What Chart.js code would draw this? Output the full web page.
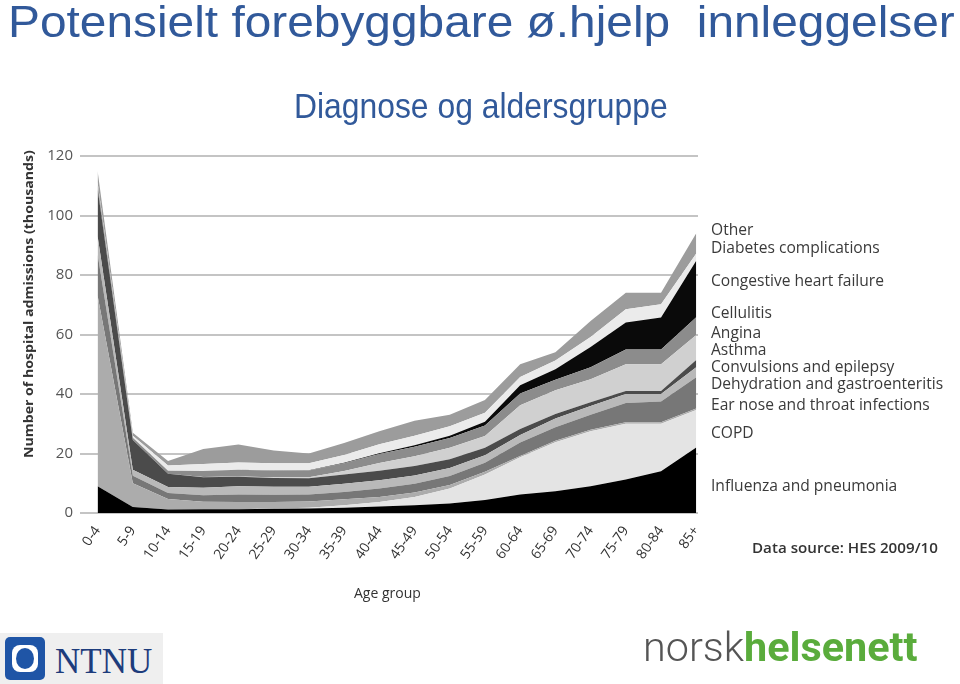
<!DOCTYPE html>
<html><head><meta charset="utf-8">
<script src="https://cdn.jsdelivr.net/npm/chart.js"></script>
<style>
html,body{margin:0;padding:0;background:#fff;}
#wrap{position:relative;width:960px;height:684px;overflow:hidden;background:#fff;}
canvas{position:absolute;left:0;top:0;}
.t{position:absolute;white-space:pre;line-height:1;}
.blue{color:#31599a;font-family:"Liberation Sans",Arial,sans-serif;transform-origin:0 0;}
.lg{position:absolute;left:711px;font-family:"Open Sans",sans-serif;font-size:15.6px;color:#3a3a3a;white-space:pre;line-height:1;transform:translateY(-50%);}
</style></head><body>
<div id="wrap">
<canvas id="c" width="960" height="684"></canvas>
<div id="title" class="t blue" style="left:8px;top:0px;font-size:44px;">Potensielt forebyggbare ø.hjelp  innleggelser</div>
<div id="sub" class="t blue" style="left:294px;top:88px;font-size:35px;">Diagnose og aldersgruppe</div>
<div id="ytitle" class="t" style="left:0;top:0;font-family:'Open Sans',sans-serif;font-weight:700;font-size:13px;color:#333;transform-origin:0 0;">Number of hospital admissions (thousands)</div>
<div class="t" style="left:354px;top:586px;font-family:'Open Sans',sans-serif;font-size:14px;color:#333;">Age group</div>
<div id="src" class="t" style="left:752px;top:540px;font-family:'Open Sans',sans-serif;font-weight:600;font-size:15px;color:#333;transform-origin:0 0;">Data source: HES 2009/10</div>
<div id="legend"></div>
<div style="position:absolute;left:0;top:633px;width:163px;height:51px;background:#efefef;"></div>
<div style="position:absolute;left:5px;top:637px;width:40px;height:43px;background:#1f55a6;border-radius:5px;"></div>
<div style="position:absolute;left:12px;top:645px;width:26px;height:27px;background:#fff;border-radius:8px;"></div>
<div style="position:absolute;left:16px;top:648px;width:18px;height:21px;background:#1f55a6;border-radius:50%;"></div>
<div class="t" style="left:55px;top:644px;font-family:'Liberation Serif',serif;font-size:35px;color:#1d3c7c;">NTNU</div>
<div id="nhn" class="t" style="left:643px;top:628px;font-family:Roboto,'Liberation Sans',sans-serif;font-size:40px;transform-origin:0 0;"><span style="font-weight:300;color:#555;">norsk</span><span style="font-weight:700;color:#5aac3c;">helsenett</span></div>
</div>
<script>
const ages = ['0-4','5-9','10-14','15-19','20-24','25-29','30-34','35-39','40-44','45-49','50-54','55-59','60-64','65-69','70-74','75-79','80-84','85+'];
const influenza   = [9, 2, 1.2, 1.3, 1.3, 1.4, 1.5, 1.8, 2.2, 2.6, 3.2, 4.4, 6.2, 7.3, 9, 11.3, 14, 22];
const copd        = [0, 0, 0, 0, 0, 0.1, 0.3, 0.8, 1.5, 2.8, 5, 8.5, 12.5, 16.5, 18.5, 18.7, 16, 12.6];
const ent         = [64, 8, 3.5, 2.5, 2.4, 2.2, 2.1, 2, 1.7, 1.5, 1.2, 1, 0.5, 0.5, 0.5, 0.5, 0.5, 0.5];
const dehydration = [14, 2.5, 2, 2.2, 2.5, 2.4, 2.3, 2.5, 2.8, 2.9, 3, 3, 4.5, 4.5, 5, 6.5, 7, 10.5];
const convulsions = [6, 2, 2, 2.5, 2.8, 2.7, 2.6, 2.7, 2.8, 2.8, 2.7, 2.5, 2.5, 3, 3, 3, 2.5, 3.4];
const asthma      = [16, 10, 4.5, 3.5, 3.2, 3, 2.9, 3.1, 3.2, 3.2, 3, 2.5, 2, 1.5, 1.2, 1, 1, 2.4];
const angina      = [0, 0, 0, 0.1, 0.1, 0.2, 0.3, 1.2, 2.6, 3.3, 3.8, 4, 8, 8, 7.8, 9, 9, 8.4];
const cellulitis  = [1.5, 0.8, 1, 2, 2.2, 2.2, 2.3, 2.6, 3, 3.2, 3.3, 3.5, 4, 3.5, 4, 5, 5, 6];
const chf         = [0, 0, 0, 0, 0, 0.1, 0.1, 0.2, 0.3, 0.5, 0.8, 1.3, 2.7, 3.5, 6.8, 9, 10.7, 19];
const diabetes    = [0.5, 0.7, 1.8, 2.4, 2.5, 2.4, 2.3, 2.6, 3, 3.2, 3.2, 3, 2.8, 3, 3.4, 4.5, 4.5, 2.4];
const other       = [4, 1, 1.5, 5, 6, 4.3, 3.3, 4, 4.4, 5, 3.8, 4.3, 4.3, 2.7, 5.3, 5.5, 3.8, 6.8];
const yTicks = [0, 20, 40, 60, 80, 100, 120];

const seriesNames = ['Influenza and pneumonia','COPD','Ear nose and throat infections','Dehydration and gastroenteritis','Convulsions and epilepsy','Asthma','Angina','Cellulitis','Congestive heart failure','Diabetes complications','Other'];
const seriesData = [influenza, copd, ent, dehydration, convulsions, asthma, angina, cellulitis, chf, diabetes, other];
const seriesColors = ['#000000','#e4e4e4','#acacac','#777777','#b9b9b9','#4b4b4b','#d0d0d0','#8c8c8c','#0a0a0a','#ebebeb','#9c9c9c'];
const legendY = [486, 433, 405, 384, 367, 350, 333, 313, 281, 248, 230];

const lg = document.getElementById('legend');
seriesNames.forEach((n, i) => {
  const d = document.createElement('div');
  d.className = 'lg'; d.textContent = n; d.style.top = legendY[i] + 'px';
  lg.appendChild(d);
});

function fitWidth(id, w) {
  const el = document.getElementById(id);
  el.style.transform = 'scaleX(' + (w / el.offsetWidth) + ')';
}
fitWidth('title', 947);
fitWidth('sub', 374);
fitWidth('src', 186);
fitWidth('nhn', 275);
const yt = document.getElementById('ytitle');
const ytw = yt.offsetWidth;
yt.style.transform = 'translate(22px,' + (150 + 308) + 'px) rotate(-90deg) scaleX(' + (308 / ytw) + ')';

new Chart(document.getElementById('c'), {
  type: 'line',
  data: {
    datasets: seriesData.map((arr, i) => ({
      label: seriesNames[i],
      data: arr.map((v, j) => ({x: j, y: v})),
      backgroundColor: seriesColors[i],
      borderColor: seriesColors[i],
      borderWidth: 0,
      pointRadius: 0,
      tension: 0,
      fill: i === 0 ? 'origin' : '-1'
    }))
  },
  options: {
    responsive: false,
    animation: false,
    layout: {padding: {left: 0, top: 156, right: 262, bottom: 81}},
    plugins: {legend: {display: false}, tooltip: {enabled: false}},
    scales: {
      x: {
        type: 'linear', min: -0.5, max: 17.05,
        afterFit: s => { s.height = 90; },
        afterBuildTicks: s => { s.ticks = ages.map((a, i) => ({value: i})); },
        grid: {display: false}, border: {display: false},
        ticks: {
          autoSkip: false, minRotation: 55, maxRotation: 55, padding: 2,
          color: '#333', font: {family: 'Open Sans', size: 14},
          callback: v => ages[v]
        }
      },
      y: {
        stacked: true, min: 0, max: 120,
        afterFit: s => { s.width = 80; },
        afterBuildTicks: s => { s.ticks = yTicks.map(v => ({value: v})); },
        grid: {color: '#c4c4c4', lineWidth: 2, drawTicks: false},
        border: {display: false},
        ticks: {padding: 7, color: '#555', font: {family: 'Open Sans', size: 15}}
      }
    }
  }
});
</script>
</body></html>
